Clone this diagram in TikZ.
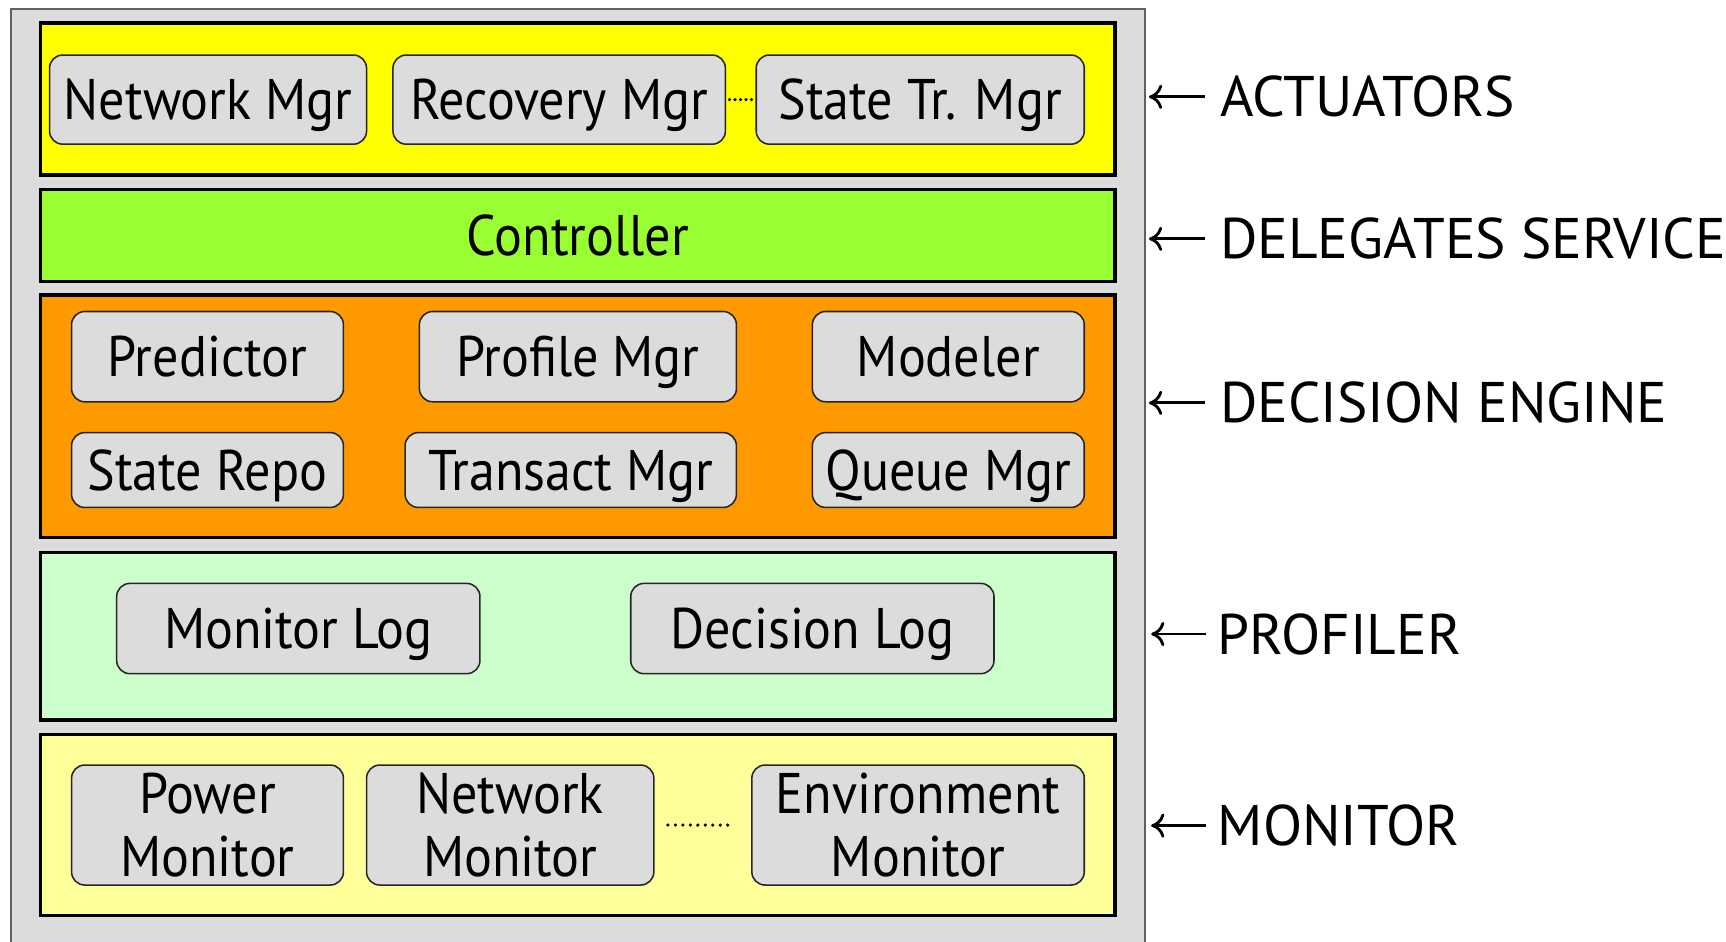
\documentclass[tikz,border=0pt]{standalone}
\usepackage{fontspec}
\setmainfont{PT Sans}
\newfontfamily\cfont[FakeStretch=0.91]{PT Sans}
\usetikzlibrary{arrows.meta}
\definecolor{bggray}{HTML}{DCDCDC}
\definecolor{outline}{HTML}{606060}
\definecolor{actcol}{HTML}{FFFF00}
\definecolor{ctlcol}{HTML}{99FF33}
\definecolor{deccol}{HTML}{FF9900}
\definecolor{profcol}{HTML}{CCFFCC}
\definecolor{moncol}{HTML}{FFFF99}
\tikzset{
  layer/.style={draw=black, line width=1.5pt, minimum width=488pt, inner sep=0pt},
  comp/.style={draw=black!85, line width=0.7pt, fill=bggray, rounded corners=6pt, inner sep=0pt, align=center,
    font=\cfont\fontsize{26}{29}\selectfont},
  oneline/.style={text height=18.2pt, text depth=0pt},
  lbl/.style={anchor=west, inner sep=0pt, font=\fontsize{26}{29}\selectfont},
  lbarrow/.style={-{To[length=6pt,width=11pt]}, line width=1.3pt},
  dots/.style={line width=1.6pt, line cap=round, dash pattern=on 0pt off 3.4pt}
}
\begin{document}
\begin{tikzpicture}[x=0.5pt,y=-0.5pt]
\useasboundingbox (0,0) rectangle (1568,855);
% outer container
\node[draw=outline, line width=0.8pt, fill=bggray, minimum width=515pt, minimum height=432pt, inner sep=0pt] (outer) at (525,440) {};
% layers
\node[layer, fill=actcol, minimum height=69pt] (act) at (525,90) {};
\node[layer, fill=ctlcol, minimum height=42pt, oneline, font=\cfont\fontsize{26}{29}\selectfont] (ctl) at (525,214) {Controller};
\node[layer, fill=deccol, minimum height=110pt] (dec) at (525,378) {};
\node[layer, fill=profcol, minimum height=76pt] (prof) at (525,578) {};
\node[layer, fill=moncol, minimum height=82.5pt] (mon) at (525,749.5) {};
% actuators
\node[comp, oneline, minimum width=144pt, minimum height=40.5pt] (nm) at (189,90.5) {Network Mgr};
\node[comp, oneline, minimum width=151pt, minimum height=40.5pt] (rm) at (508,90.5) {Recovery Mgr};
\node[comp, oneline, minimum width=149pt, minimum height=40.5pt] (st) at (836,90.5) {State Tr. Mgr};
\draw[dots, dash pattern=on 0pt off 2.5pt, shorten <=1.5pt] (rm.east) -- (st.west);
% decision engine
\node[comp, oneline, minimum width=123.5pt, minimum height=41pt] (pred) at (188.5,324) {Predictor};
\node[comp, oneline, minimum width=144pt, minimum height=41pt] (pmgr) at (525,324) {Profile Mgr};
\node[comp, oneline, minimum width=123.5pt, minimum height=41pt] (model) at (861.5,324) {Modeler};
\node[comp, oneline, minimum width=123.5pt, minimum height=34pt] (srepo) at (188.5,427) {State Repo};
\node[comp, oneline, minimum width=150.5pt, minimum height=34pt] (trans) at (518.5,427) {Transact Mgr};
\node[comp, oneline, minimum width=123.5pt, minimum height=34pt] (queue) at (861.5,427) {Queue Mgr};
% profiler
\node[comp, oneline, minimum width=165pt, minimum height=41pt] (mlog) at (271,571) {Monitor Log};
\node[comp, oneline, minimum width=165pt, minimum height=41pt] (dlog) at (738,571) {Decision Log};
% monitor
\node[comp, minimum width=123.5pt, minimum height=54.5pt] (pmon) at (188.5,749.5) {Power\\Monitor};
\node[comp, minimum width=130.5pt, minimum height=54.5pt] (nmon) at (463.5,749.5) {Network\\Monitor};
\node[comp, minimum width=151pt, minimum height=54.5pt] (emon) at (834,749.5) {Environment\\Monitor};
\draw[dots, shorten <=6pt, shorten >=7.5pt] (nmon.east) -- (emon.west);
% right labels
\node[lbl] (lact) at (1108,88) {ACTUATORS};
\node[lbl] (lctl) at (1108,217) {DELEGATES SERVICE};
\node[lbl] (ldec) at (1108,366) {DECISION ENGINE};
\node[lbl] (lprof) at (1106,576) {PROFILER};
\node[lbl] (lmon) at (1106,750) {MONITOR};
\draw[lbarrow] ([xshift=-6.5pt]lact.west) -- ([xshift=1.5pt]lact.west -| outer.east);
\draw[lbarrow] ([xshift=-6.5pt]lctl.west) -- ([xshift=1.5pt]lctl.west -| outer.east);
\draw[lbarrow] ([xshift=-6.5pt]ldec.west) -- ([xshift=1.5pt]ldec.west -| outer.east);
\draw[lbarrow] ([xshift=-5pt]lprof.west) -- ([xshift=2.5pt]lprof.west -| outer.east);
\draw[lbarrow] ([xshift=-5pt]lmon.west) -- ([xshift=2.5pt]lmon.west -| outer.east);
\end{tikzpicture}
\end{document}
